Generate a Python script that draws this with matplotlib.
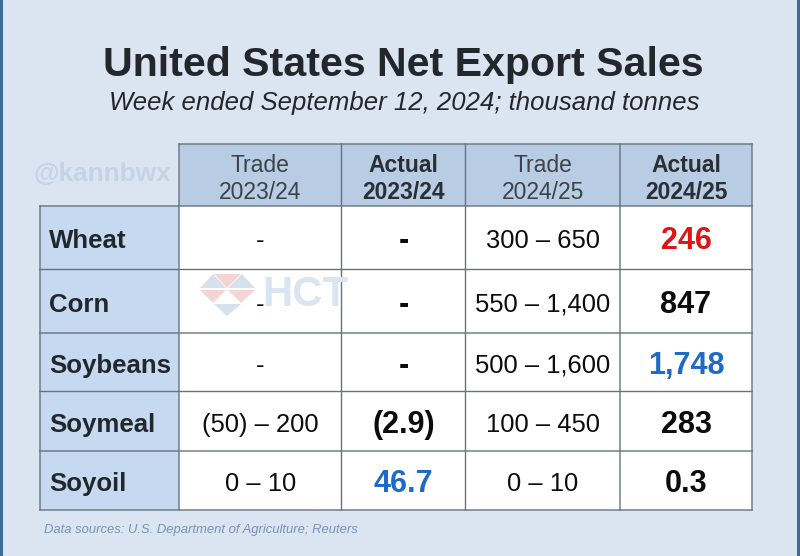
import matplotlib
matplotlib.use('Agg')
import matplotlib.pyplot as plt
from matplotlib.patches import Rectangle, Polygon

plt.rcParams['font.family'] = ['Liberation Sans', 'DejaVu Sans']

title = 'United States Net Export Sales'
subtitle = 'Week ended September 12, 2024; thousand tonnes'
source = 'Data sources: U.S. Department of Agriculture; Reuters'
headers = ['Trade\n2023/24', 'Actual\n2023/24', 'Trade\n2024/25', 'Actual\n2024/25']
commodities = ['Wheat', 'Corn', 'Soybeans', 'Soymeal', 'Soyoil']
trade_2324 = ['-', '-', '-', '(50) – 200', '0 – 10']
actual_2324 = ['-', '-', '-', '(2.9)', '46.7']
trade_2425 = ['300 – 650', '550 – 1,400', '500 – 1,600', '100 – 450', '0 – 10']
actual_2425 = ['246', '847', '1,748', '283', '0.3']

RED = '#e01414'
BLUE = '#1f6ac8'
BLACK = '#0c0c0c'
actual_2324_colors = [BLACK, BLACK, BLACK, BLACK, BLUE]
actual_2425_colors = [RED, BLACK, BLUE, BLACK, BLACK]

# grid lines in image pixels
xs = [40, 179, 341.5, 465.5, 620, 752]
ys = [144, 206, 269.5, 333, 391.5, 451, 510]
GRID = '#68727d'

fig = plt.figure(figsize=(8, 5.56), dpi=100, facecolor='#dbe5f1')
ax = fig.add_axes([0, 0, 1, 1])
ax.set_xlim(0, 800)
ax.set_ylim(556, 0)
ax.axis('off')

# side edges of the picture
ax.add_patch(Rectangle((0, 0), 2.5, 556, color='#3f6a9c', lw=0))
ax.add_patch(Rectangle((797, 0), 3, 556, color='#3f6a9c', lw=0))

ax.text(403.5, 64.5, title, ha='center', va='center', fontsize=29.6, fontweight='bold', color='#22272c')
ax.text(404, 103, subtitle, ha='center', va='center', fontsize=18.5, style='italic', color='#22272c')
ax.text(102, 174, '@kannbwx', ha='center', va='center', fontsize=18.8, fontweight='bold', color='#c5d3e5')
ax.text(44, 530, source, ha='left', va='center', fontsize=9.4, style='italic', color='#7892b4')

# header and first column fills
ax.add_patch(Rectangle((xs[1], ys[0]), xs[5] - xs[1], ys[1] - ys[0], fc='#b8cce4', lw=0))
ax.add_patch(Rectangle((xs[0], ys[1]), xs[1] - xs[0], ys[6] - ys[1], fc='#c5d9f1', lw=0))
ax.add_patch(Rectangle((xs[1], ys[1]), xs[5] - xs[1], ys[6] - ys[1], fc='white', lw=0))

# HCT watermark
wm_blue = '#d5e2ee'
wm_red = '#f4d5d3'
for pts, c in [([(200, 288), (213, 274), (226, 288)], wm_blue),
               ([(228, 288), (242, 274), (255, 288)], wm_blue),
               ([(214, 274), (227, 288), (241, 274)], wm_red),
               ([(200, 290), (226, 290), (213, 303)], wm_red),
               ([(228, 290), (255, 290), (241, 303)], wm_red),
               ([(214, 304), (241, 304), (227, 316)], wm_blue)]:
    ax.add_patch(Polygon(pts, closed=True, fc=c, lw=0))
ax.text(262, 295, 'HCT', ha='left', va='center', fontsize=30.2, fontweight='bold', color='#d9e5f0')

# grid
for x in xs[1:]:
    ax.plot([x, x], [ys[0], ys[6]], color=GRID, lw=1.0, snap=False)
ax.plot([xs[0], xs[0]], [ys[1], ys[6]], color=GRID, lw=1.0, snap=False)
ax.plot([xs[1], xs[5]], [ys[0], ys[0]], color=GRID, lw=1.0, snap=False)
for y in ys[1:]:
    ax.plot([xs[0], xs[5]], [y, y], color=GRID, lw=1.0, snap=False)

# header row
for i, h in enumerate(headers):
    cx = (xs[i + 1] + xs[i + 2]) / 2
    top, bottom = h.split('\n')
    is_actual = top == 'Actual'
    ax.text(cx, 165, top, ha='center', va='center', fontsize=16.5,
            fontweight='bold' if is_actual else 'normal', color='#2a2f35' if is_actual else '#3d4349')
    ax.text(cx, 192.5, bottom, ha='center', va='center', fontsize=16.5,
            fontweight='bold' if is_actual else 'normal', color='#2a2f35' if is_actual else '#3d4349')

# body rows
for r, name in enumerate(commodities):
    cy = (ys[r + 1] + ys[r + 2]) / 2 + 3.5
    ax.text(49, cy, name, ha='left', va='center', fontsize=18.6, fontweight='bold', color='#22272c')
    ax.text((xs[1] + xs[2]) / 2, cy, trade_2324[r], ha='center', va='center', fontsize=18.4, color=BLACK)
    ax.text((xs[2] + xs[3]) / 2, cy, actual_2324[r], ha='center', va='center', fontsize=22, fontweight='bold',
            color=actual_2324_colors[r])
    ax.text((xs[3] + xs[4]) / 2, cy, trade_2425[r], ha='center', va='center', fontsize=18.4, color=BLACK)
    ax.text((xs[4] + xs[5]) / 2, cy, actual_2425[r], ha='center', va='center', fontsize=22, fontweight='bold',
            color=actual_2425_colors[r])

fig.savefig('out.png', dpi=100, facecolor=fig.get_facecolor())
